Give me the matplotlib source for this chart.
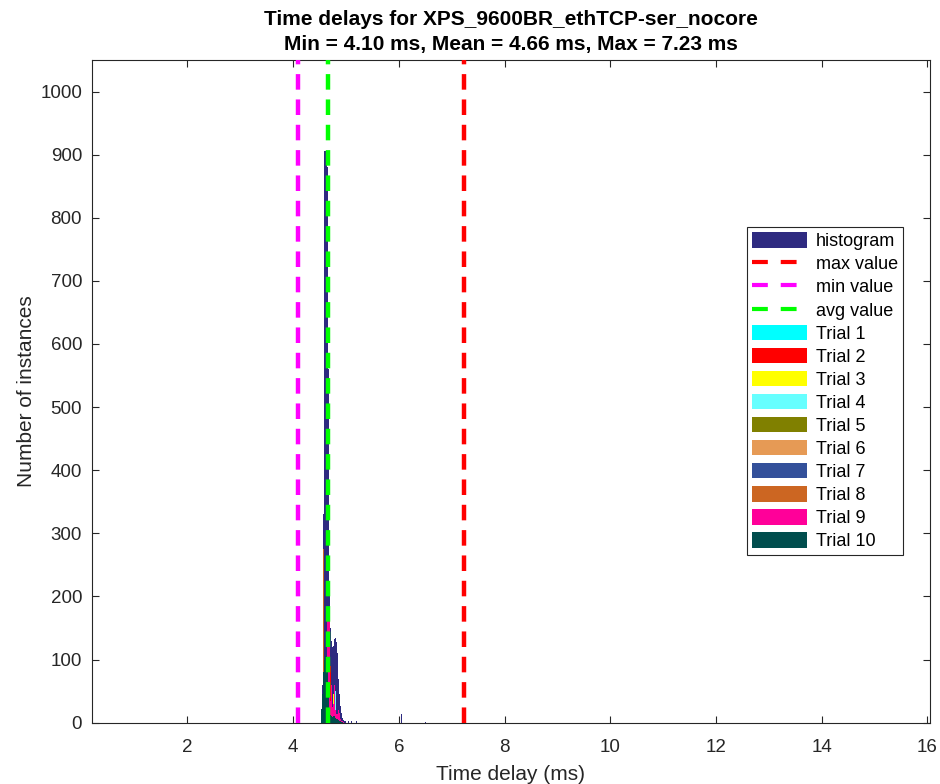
import matplotlib
matplotlib.use("Agg")
import matplotlib.pyplot as plt
from matplotlib.patches import Patch
from matplotlib.lines import Line2D

plt.rcParams['font.family'] = ['Liberation Sans', 'DejaVu Sans']

# Overall histogram of time delays (ms), 0.01 ms bins
hist_centers = [4.525, 4.535, 4.545, 4.555, 4.565, 4.575, 4.585, 4.595, 4.605, 4.615,
                4.625, 4.635, 4.645, 4.655, 4.665, 4.675, 4.685, 4.695, 4.705, 4.715,
                4.725, 4.735, 4.745, 4.755, 4.765, 4.775, 4.785, 4.795, 4.805, 4.815,
                4.825, 4.835, 4.845, 4.855, 4.865, 4.875, 4.885, 4.895, 4.905, 4.915,
                4.925, 4.935, 4.945, 4.955, 4.965, 4.975, 4.985, 4.995,
                5.05, 5.10, 5.15, 5.20, 5.25, 5.30, 5.40, 5.55, 5.85, 5.95, 6.05, 6.50, 7.225]
hist_counts = [8, 18, 35, 60, 110, 330, 620, 905, 910, 905,
               900, 895, 1400, 880, 560, 300, 200, 160, 150, 140,
               130, 125, 120, 118, 122, 128, 133, 135, 134, 132,
               128, 110, 85, 70, 58, 45, 35, 27, 20, 15,
               11, 8, 6, 5, 4, 3, 3, 2,
               2, 2, 1, 2, 1, 1, 1, 1, 2, 2, 14, 1, 1]
hist_width = 0.01

# Per-trial histograms, 0.02 ms bins
trial_centers = [4.53, 4.55, 4.57, 4.59, 4.61, 4.63, 4.65, 4.67, 4.69, 4.71, 4.73, 4.75,
                 4.77, 4.79, 4.81, 4.83, 4.85, 4.87, 4.89, 4.91, 4.93, 4.95, 4.97]
trial_width = 0.02
trial_counts = [
    [10, 30, 60, 85, 95, 98, 95, 180, 40, 20, 15, 14, 15, 16, 14, 10, 7, 5, 3, 2, 1, 1, 0],
    [12, 28, 58, 80, 92, 96, 94, 60, 35, 90, 18, 15, 16, 15, 13, 9, 6, 4, 3, 2, 1, 0, 0],
    [8, 25, 55, 82, 94, 97, 96, 55, 30, 22, 20, 18, 45, 17, 15, 10, 7, 5, 3, 2, 1, 1, 0],
    [11, 27, 57, 83, 93, 99, 97, 58, 33, 21, 17, 16, 18, 20, 50, 12, 8, 5, 3, 2, 1, 0, 0],
    [9, 26, 56, 81, 90, 95, 93, 52, 31, 19, 16, 15, 16, 17, 15, 11, 7, 4, 3, 1, 1, 0, 0],
    [10, 29, 59, 84, 96, 98, 95, 57, 34, 23, 40, 17, 17, 18, 14, 10, 6, 5, 3, 2, 1, 0, 0],
    [12, 31, 61, 86, 97, 100, 98, 59, 36, 24, 19, 18, 19, 20, 16, 12, 8, 6, 4, 2, 1, 1, 0],
    [9, 27, 275, 90, 96, 97, 94, 54, 32, 20, 17, 16, 17, 18, 15, 10, 7, 5, 3, 2, 1, 0, 0],
    [11, 28, 58, 82, 94, 96, 170, 165, 170, 35, 60, 25, 30, 60, 20, 14, 20, 15, 6, 3, 2, 1, 0],
    [22, 45, 80, 100, 105, 105, 100, 45, 18, 12, 10, 9, 10, 10, 8, 6, 4, 3, 2, 1, 1, 0, 0],
]
trial_labels = ['Trial 1', 'Trial 2', 'Trial 3', 'Trial 4', 'Trial 5',
                'Trial 6', 'Trial 7', 'Trial 8', 'Trial 9', 'Trial 10']
trial_colors = ['#00FFFF', '#FF0000', '#FFFF00', '#66FFFF', '#808000',
                '#E69A55', '#33509A', '#CC6622', '#FF0099', '#004D4D']

min_val = 4.10
mean_val = 4.66
max_val = 7.23

hist_color = '#2E2A80'
text_color = '#262626'

fig = plt.figure(figsize=(9.4, 7.84), dpi=100)
ax = fig.add_axes([0.0976, 0.0782, 0.8918, 0.8453])

ax.bar(hist_centers, hist_counts, width=hist_width, color=hist_color,
       edgecolor='none', linewidth=0, align='center', zorder=2)
for counts, color in zip(trial_counts, trial_colors):
    ax.bar(trial_centers, counts, width=trial_width, color=color,
           edgecolor='none', linewidth=0, align='center', zorder=3)

dash = (0, (3.5, 2.2))
ax.axvline(max_val, color='#FF0000', linewidth=3.2, linestyle=dash, zorder=4)
ax.axvline(min_val, color='#FF00FF', linewidth=3.2, linestyle=dash, zorder=4)
ax.axvline(mean_val, color='#00FF00', linewidth=3.2, linestyle=dash, zorder=4)

ax.set_xlim(0.19, 16.05)
ax.set_ylim(0, 1050)
ax.set_xticks([2, 4, 6, 8, 10, 12, 14, 16])
ax.set_yticks(range(0, 1001, 100))
ax.tick_params(direction='in', length=5, width=0.8, colors=text_color,
               labelsize=13.5, top=True, right=True)
ax.tick_params(axis='x', pad=12)
ax.tick_params(axis='y', pad=7)
for sp in ax.spines.values():
    sp.set_color(text_color)
    sp.set_linewidth(0.8)

ax.set_xlabel('Time delay (ms)', fontsize=15, color=text_color, labelpad=6)
ax.set_ylabel('Number of instances', fontsize=15, color=text_color, labelpad=3)
ax.set_title('Time delays for XPS_9600BR_ethTCP-ser_nocore\n'
             'Min = %.2f ms, Mean = %.2f ms, Max = %.2f ms' % (min_val, mean_val, max_val),
             fontsize=15, fontweight='bold', color='black', pad=7, linespacing=1.4)

leg_dash = (0, (3.8, 3.1))
handles = [Patch(facecolor=hist_color, edgecolor='none'),
           Line2D([0], [0], color='#FF0000', linewidth=3, linestyle=leg_dash),
           Line2D([0], [0], color='#FF00FF', linewidth=3, linestyle=leg_dash),
           Line2D([0], [0], color='#00FF00', linewidth=3, linestyle=leg_dash)]
labels = ['histogram', 'max value', 'min value', 'avg value']
for lab, col in zip(trial_labels, trial_colors):
    handles.append(Patch(facecolor=col, edgecolor='none'))
    labels.append(lab)

leg = ax.legend(handles, labels, loc='upper left', bbox_to_anchor=(0.7817, 0.748),
                fontsize=13, frameon=True, fancybox=False, framealpha=1,
                edgecolor=text_color, handlelength=3.0, handleheight=0.95,
                handletextpad=0.5, labelspacing=0.28, borderpad=0.3,
                borderaxespad=0)
leg.get_frame().set_linewidth(0.8)

fig.savefig('out.png', dpi=100, facecolor='white')
